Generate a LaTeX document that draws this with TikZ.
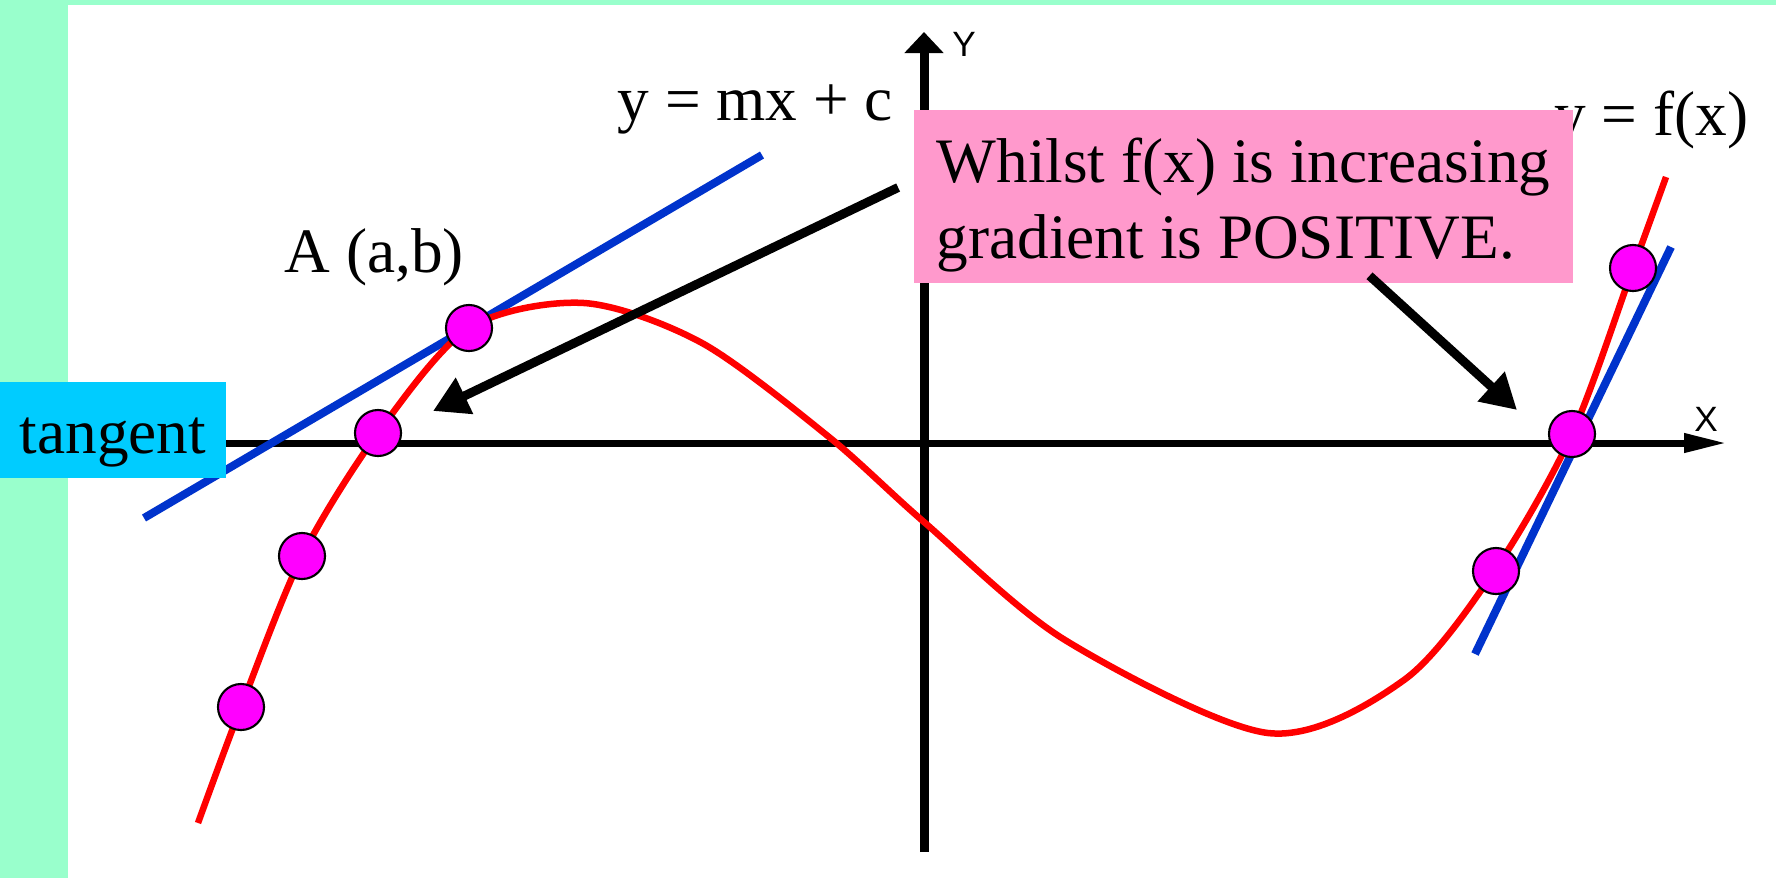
\documentclass[tikz,border=0pt]{standalone}
\usepackage{fontspec}
\setmainfont{Liberation Serif}
\setsansfont{Liberation Sans}
\usetikzlibrary{arrows.meta}

\definecolor{mint}{HTML}{99FFCC}
\definecolor{notepink}{HTML}{FF99CC}
\definecolor{tangentcyan}{HTML}{00CCFF}
\definecolor{lineblue}{HTML}{0033CC}
\definecolor{dotmagenta}{HTML}{FF00FF}

\begin{document}
\begin{tikzpicture}[
    x=0.01cm, y=-0.01cm,
    every node/.style={font=\fontsize{18}{21.6}\selectfont, inner sep=0pt},
    dot/.style={circle, draw=black, line width=0.6pt, fill=dotmagenta, minimum size=0.46cm},
    tangentline/.style={draw=lineblue, line width=0.08cm},
    curveline/.style={draw=red, line width=0.065cm},
    bigarrow/.style={line width=0.09cm, -{Triangle[length=0.35cm,width=0.38cm]}},
    axislabel/.style={font=\fontsize{10}{12}\sffamily}
]

\useasboundingbox (0,0) rectangle (1776,878);
\fill[mint] (0,0) rectangle (1776,878);
\fill[white] (68,5) rectangle (1776,878);

% axes
\coordinate (xleft) at (200,443);
\coordinate (xright) at (1727,443);
\coordinate (ybottom) at (924,852);
\coordinate (ytop) at (924,32);

\draw[line width=0.07cm, -{Triangle[length=0.43cm,width=0.18cm]}] (xleft) -- (xright);
\draw[line width=0.09cm, -{Triangle[length=0.21cm,width=0.38cm]}] (ybottom) -- (ytop);

\node[axislabel] (ylab) at (964,44) {Y};
\node[axislabel] (xlab) at (1706,419) {X};

% tangent lines
\coordinate (tl1) at (144,518);
\coordinate (tl2) at (762,155);
\coordinate (tr1) at (1475,654);
\coordinate (tr2) at (1671,247);

\draw[tangentline] (tl1) -- (tl2);
\draw[tangentline] (tr1) -- (tr2);

% y = f(x)
\draw[curveline] plot[smooth] coordinates {(198,823) (241,707) (302,556) (378,433)
    (469,328) (584,303) (702,343) (829,437) (924,522) (1065,640) (1268,733)
    (1404,680) (1495,570) (1572,434) (1633,268) (1666,177)};

\node[dot] (d1) at (241,707) {};
\node[dot] (d2) at (302,556) {};
\node[dot] (d3) at (378,433) {};
\node[dot] (d4) at (469,328) {};
\node[dot] (d5) at (1496,571) {};
\node[dot] (d6) at (1572,434) {};
\node[dot] (d7) at (1633,268) {};

% labels
\node[anchor=base west] (eqline) at (617,120) {y = mx + c};
\node[anchor=base west] (ptA) at (284,272) {A (a,b)};
\node[anchor=base east] (eqcurve) at (1749,135) {y = f(x)};

\node[fill=tangentcyan, minimum width=2.26cm, text height=0.71cm, text depth=0.25cm] (tangent) at (113,430) {tangent};

\node[fill=notepink, minimum width=6.59cm, minimum height=1.73cm, align=left] (note) at (1243.5,196.5)
    {\rule{0pt}{0.72cm}Whilst f(x) is increasing\\gradient is POSITIVE.\rule[-0.25cm]{0pt}{0.25cm}};

% arrows
\coordinate (tipA) at (433,411);
\coordinate (tipB) at (1517,410);

\draw[bigarrow] ([shift={(-15,-9)}]note.west) -- (tipA);
\draw[bigarrow] ([shift={(126,-8)}]note.south) -- (tipB);

\end{tikzpicture}
\end{document}
